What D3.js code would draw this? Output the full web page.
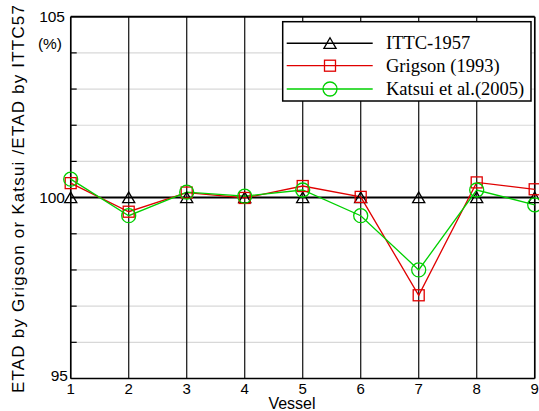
<!DOCTYPE html>
<html><head><meta charset="utf-8">
<script src="https://cdn.jsdelivr.net/npm/d3@7"></script>
<style>html,body{margin:0;padding:0;background:#fff;}svg{display:block;}</style>
</head><body>
<svg id="c" width="539" height="411"></svg>
<script>
const vessels = [1,2,3,4,5,6,7,8,9];
const ittc = [100,100,100,100,100,100,100,100,100];
const grigson = [100.40,99.61,100.14,99.99,100.32,100.02,97.30,100.42,100.23];
const katsui = [100.51,99.50,100.15,100.04,100.21,99.50,98.00,100.21,99.80];
const yTicks = [95,100,105];
const yMinor = [96,97,98,99,101,102,103,104];
const seriesNames = ["ITTC-1957","Grigson (1993)","Katsui et al.(2005)"];
const seriesColors = ["#000000","#e00000","#00d000"];

const svg = d3.select("#c");
const L=70.7, R=534.7, T=16.7, B=378.5;
const x = d3.scaleLinear().domain([1,9]).range([L,R]);
const y = d3.scaleLinear().domain([95,105]).range([B,T]);

// horizontal light grid
svg.append("g").selectAll("line").data(yMinor).join("line")
  .attr("x1",L).attr("x2",R).attr("y1",d=>y(d)).attr("y2",d=>y(d))
  .attr("stroke","#d8d8d8").attr("stroke-width",1.2);
// vertical grid
svg.append("g").selectAll("line").data(vessels).join("line")
  .attr("x1",d=>x(d)).attr("x2",d=>x(d)).attr("y1",T).attr("y2",B)
  .attr("stroke","#222").attr("stroke-width",1.3);
// left ticks
svg.append("g").selectAll("line").data(yMinor).join("line")
  .attr("x1",L).attr("x2",L+6).attr("y1",d=>y(d)).attr("y2",d=>y(d))
  .attr("stroke","#000").attr("stroke-width",1.2);
// frame
svg.append("line").attr("x1",L).attr("x2",R).attr("y1",T).attr("y2",T).attr("stroke","#000").attr("stroke-width",2);
svg.append("line").attr("x1",L).attr("x2",R).attr("y1",B).attr("y2",B).attr("stroke","#000").attr("stroke-width",1.5);
svg.append("line").attr("x1",L).attr("x2",L).attr("y1",T).attr("y2",B).attr("stroke","#000").attr("stroke-width",1.5);
svg.append("line").attr("x1",R).attr("x2",R).attr("y1",T).attr("y2",B).attr("stroke","#000").attr("stroke-width",1.5);

// tick labels
svg.append("g").selectAll("text").data(yTicks).join("text")
  .attr("x",d=>d===95?68:65).attr("y",d=>d===95?y(d)+2.5:y(d)+5.5)
  .attr("text-anchor","end").attr("font-family","Liberation Sans, Arial, sans-serif")
  .attr("font-size",15.5).text(d=>d);
svg.append("text").attr("x",62).attr("y",49).attr("text-anchor","end")
  .attr("font-family","Liberation Sans, Arial, sans-serif").attr("font-size",15.5).text("(%)");
svg.append("g").selectAll("text").data(vessels).join("text")
  .attr("x",d=>x(d)).attr("y",394).attr("text-anchor","middle")
  .attr("font-family","Liberation Sans, Arial, sans-serif").attr("font-size",15).text(d=>d);
svg.append("text").attr("x",292).attr("y",409).attr("text-anchor","middle")
  .attr("font-family","Liberation Sans, Arial, sans-serif").attr("font-size",16).text("Vessel");
svg.append("text").attr("transform","translate(24,199) rotate(-90)").attr("text-anchor","middle")
  .attr("font-family","Liberation Sans, Arial, sans-serif").attr("font-size",17)
  .attr("textLength",388).attr("lengthAdjust","spacing")
  .text("ETAD by Grigson or Katsui /ETAD by ITTC57");

// series
const line = d3.line().x((d,i)=>x(vessels[i])).y(d=>y(d));
const data = [ittc,grigson,katsui];
const widths = [2,1.3,1.3];
const tri = d3.symbol().type(d3.symbolTriangle).size(64);
function drawMarker(g,k,cx,cy){
  if(k===0){
    g.append("path").attr("d",tri()).attr("transform",`translate(${cx},${cy+1.5})`)
      .attr("fill","none").attr("stroke","#000").attr("stroke-width",1.3);
  } else if(k===1){
    g.append("rect").attr("x",cx-5.5).attr("y",cy-5.5).attr("width",11).attr("height",11)
      .attr("fill","none").attr("stroke",seriesColors[1]).attr("stroke-width",1.3);
  } else {
    g.append("circle").attr("cx",cx).attr("cy",cy).attr("r",7)
      .attr("fill","none").attr("stroke",seriesColors[2]).attr("stroke-width",1.3);
  }
}
data.forEach((s,k)=>{
  svg.append("path").datum(s).attr("d",line).attr("fill","none")
    .attr("stroke",seriesColors[k]).attr("stroke-width",widths[k]);
});
data.forEach((s,k)=>{
  const g=svg.append("g");
  s.forEach((v,i)=>drawMarker(g,k,x(vessels[i]),y(v)));
});

// legend
const lg = svg.append("g");
lg.append("rect").attr("x",282.7).attr("y",21.7).attr("width",248.3).attr("height",79.3)
  .attr("fill","#fff").attr("stroke","#000").attr("stroke-width",1.5);
const rows=[43.3,65.7,89];
seriesNames.forEach((n,k)=>{
  lg.append("line").attr("x1",286.7).attr("x2",372.7).attr("y1",rows[k]).attr("y2",rows[k])
    .attr("stroke",seriesColors[k]).attr("stroke-width",k===0?1.5:1.3);
  drawMarker(lg,k,330,rows[k]);
  lg.append("text").attr("x",386).attr("y",rows[k]+6).attr("font-family","Liberation Serif, Times New Roman, serif")
    .attr("font-size",18.5).text(n);
});
</script>
</body></html>
